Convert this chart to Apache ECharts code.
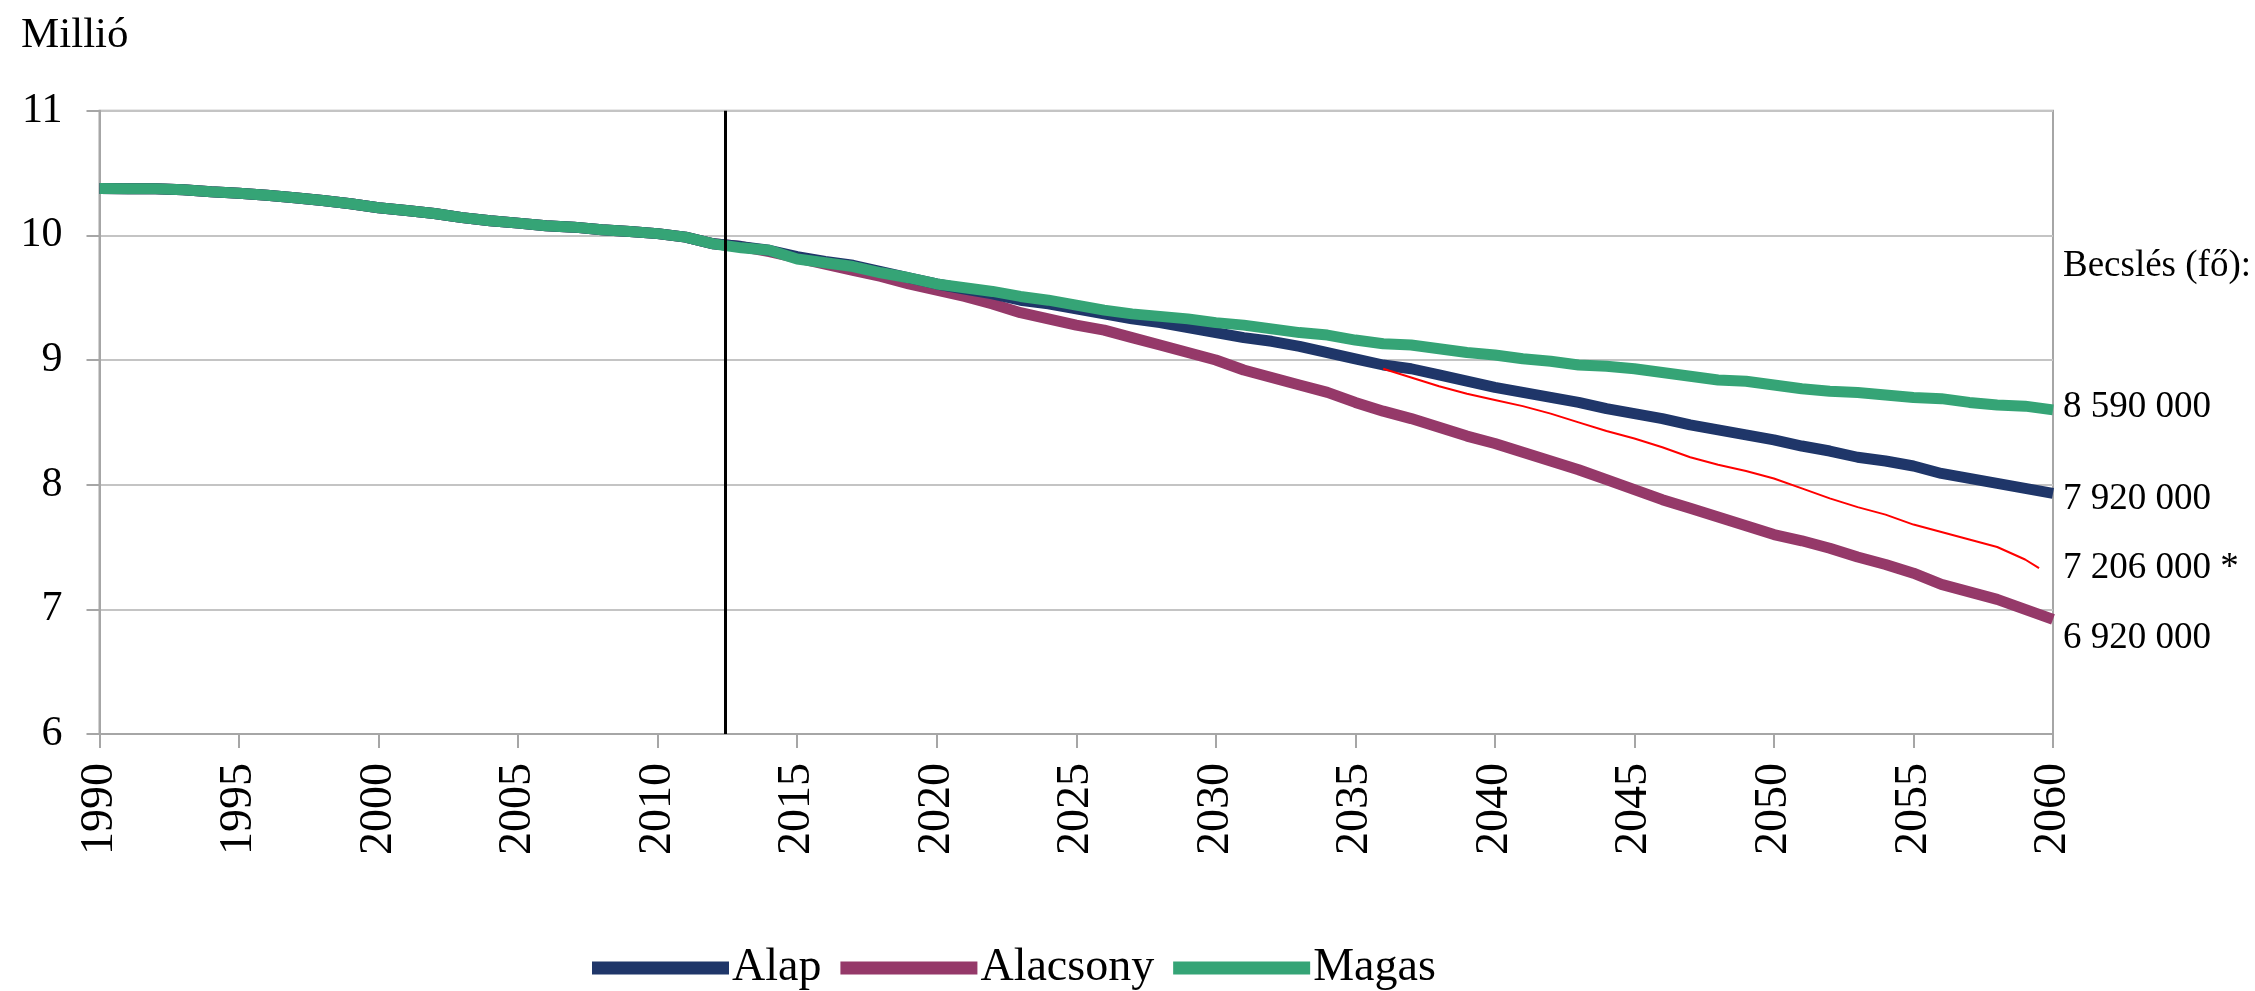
<!DOCTYPE html>
<html>
<head>
<meta charset="utf-8">
<script src="https://cdn.jsdelivr.net/npm/echarts@6/dist/echarts.min.js"></script>
<style>html,body{margin:0;padding:0;background:#fff;}#c{width:2255px;height:991px;}</style>
</head>
<body>
<div id="c"></div>
<script>
// Historical years 1990-2012 (shared by all scenarios)
const histYears = [1990,1991,1992,1993,1994,1995,1996,1997,1998,1999,2000,2001,2002,2003,2004,2005,2006,2007,2008,2009,2010,2011,2012];
const histValues = [10.375,10.374,10.373,10.365,10.350,10.337,10.321,10.301,10.280,10.253,10.222,10.200,10.175,10.142,10.117,10.098,10.077,10.066,10.045,10.031,10.014,9.986,9.932];
// Projection years 2013-2060
const projYears = [2013,2014,2015,2016,2017,2018,2019,2020,2021,2022,2023,2024,2025,2026,2027,2028,2029,2030,2031,2032,2033,2034,2035,2036,2037,2038,2039,2040,2041,2042,2043,2044,2045,2046,2047,2048,2049,2050,2051,2052,2053,2054,2055,2056,2057,2058,2059,2060];
const alapValues = [9.91,9.88,9.83,9.79,9.76,9.71,9.66,9.61,9.57,9.53,9.48,9.45,9.41,9.37,9.33,9.30,9.26,9.22,9.18,9.15,9.11,9.06,9.01,8.96,8.93,8.88,8.83,8.78,8.74,8.70,8.66,8.61,8.57,8.53,8.48,8.44,8.40,8.36,8.31,8.27,8.22,8.19,8.15,8.09,8.05,8.01,7.97,7.93];
const alacsonyValues = [9.91,9.87,9.82,9.77,9.72,9.67,9.61,9.56,9.51,9.45,9.38,9.33,9.28,9.24,9.18,9.12,9.06,9.00,8.92,8.86,8.80,8.74,8.66,8.59,8.53,8.46,8.39,8.33,8.26,8.19,8.12,8.04,7.96,7.88,7.81,7.74,7.67,7.60,7.55,7.49,7.42,7.36,7.29,7.20,7.14,7.08,7.00,6.92];
const magasValues = [9.90,9.88,9.81,9.78,9.75,9.70,9.66,9.61,9.58,9.55,9.51,9.48,9.44,9.40,9.37,9.35,9.33,9.30,9.28,9.25,9.22,9.20,9.16,9.13,9.12,9.09,9.06,9.04,9.01,8.99,8.96,8.95,8.93,8.90,8.87,8.84,8.83,8.80,8.77,8.75,8.74,8.72,8.70,8.69,8.66,8.64,8.63,8.60];
// Alternative estimate (red thin line)
const estYears = [2036,2037,2038,2039,2040,2041,2042,2043,2044,2045,2046,2047,2048,2049,2050,2051,2052,2053,2054,2055,2056,2057,2058,2059,2059.5];
const estValues = [8.93,8.86,8.79,8.73,8.68,8.63,8.57,8.50,8.43,8.37,8.30,8.22,8.16,8.11,8.05,7.97,7.89,7.82,7.76,7.68,7.62,7.56,7.50,7.40,7.33];
const seriesNames = ['Alap','Alacsony','Magas'];
const endLabels = {Alap:'7 920 000', Alacsony:'6 920 000', Magas:'8 590 000', est:'7 206 000 *'};
const markYear = 2012.42;
const yTicks = [6,7,8,9,10,11];

const FONT = 'Liberation Serif';
function build(vals){
  const d = histYears.map((y,i)=>[y,histValues[i]]);
  return d.concat(projYears.map((y,i)=>[y,vals[i]]));
}
const chart = echarts.init(document.getElementById('c'), null, {renderer:'canvas'});
const lineBase = (name, color, vals, labelOffset) => ({
  name, type:'line', data: build(vals), showSymbol:false, symbol:'none',
  lineStyle:{color, width:11}, itemStyle:{color},
  emphasis:{disabled:true},
  endLabel:{show:true, formatter: endLabels[name], fontFamily:FONT, fontSize:37, color:'#000', distance:10, offset:labelOffset}
});
chart.setOption({
  animation:false,
  textStyle:{fontFamily:FONT},
  grid:{left:99.5, right:202, top:110.7, bottom:257, show:true, borderColor:'#a6a6a6', borderWidth:2, backgroundColor:'transparent'},
  legend:{
    data:['Alap','Alacsony','Magas'], left:587, top:940, itemWidth:137, itemHeight:13, itemGap:19,
    icon:'rect', textStyle:{fontFamily:FONT, fontSize:46, color:'#000', padding:[0,0,0,-2]}
  },
  xAxis:{
    type:'value', min:1990, max:2060, interval:5,
    axisLine:{show:true, lineStyle:{color:'#a6a6a6', width:2}},
    axisTick:{show:true, length:14, lineStyle:{color:'#a6a6a6', width:2}},
    splitLine:{show:false},
    axisLabel:{rotate:90, margin:29, fontFamily:FONT, fontSize:46, color:'#000', formatter:v=>String(v)}
  },
  yAxis:{
    type:'value', min:6, max:11, interval:1,
    axisLine:{show:true, lineStyle:{color:'#a6a6a6', width:2}},
    axisTick:{show:true, length:13, lineStyle:{color:'#a6a6a6', width:2}},
    splitLine:{show:true, lineStyle:{color:'#c4c4c4', width:2}},
    axisLabel:{margin:37, fontFamily:FONT, fontSize:42, color:'#000'}
  },
  graphic:[
    {type:'text', left:21, top:14, style:{text:'Millió', font:'43px "Liberation Serif"', fill:'#000'}},
    {type:'text', left:2063, top:248, style:{text:'Becslés (fő):', font:'37px "Liberation Serif"', fill:'#000'}}
  ],
  series:[
    lineBase('Alacsony','#953969', alacsonyValues, [0,19]),
    lineBase('Alap','#1f3669', alapValues, [0,6]),
    Object.assign(lineBase('Magas','#35a476', magasValues, [0,-3]), {
      markLine:{silent:true, symbol:'none', label:{show:false}, lineStyle:{color:'#000', width:3, type:'solid'},
        data:[{xAxis:markYear}]}
    }),
    {name:'est', type:'line', data: estYears.map((y,i)=>[y,estValues[i]]), showSymbol:false, symbol:'none',
     lineStyle:{color:'#ff0000', width:2}, emphasis:{disabled:true},
     endLabel:{show:true, formatter:endLabels.est, fontFamily:FONT, fontSize:37, color:'#000', distance:24, offset:[0,0]}}
  ]
});
</script>
</body>
</html>
